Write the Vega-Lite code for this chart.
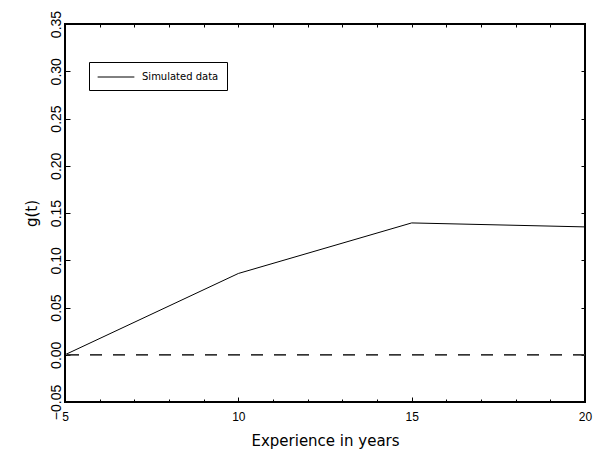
{
  "$schema": "https://vega.github.io/schema/vega-lite/v6.json",
  "width": 520,
  "height": 378,
  "autosize": {"type": "none"},
  "padding": {"left": 65, "top": 24, "right": 31, "bottom": 52},
  "background": "white",
  "data": {
    "values": [
      {"t": 5, "g": 0.0},
      {"t": 10, "g": 0.086},
      {"t": 15, "g": 0.1395},
      {"t": 20, "g": 0.1353}
    ]
  },
  "layer": [
    {
      "mark": {"type": "line", "strokeWidth": 1, "clip": true},
      "encoding": {
        "x": {
          "field": "t", "type": "quantitative",
          "scale": {"domain": [5, 20], "nice": false, "zero": false},
          "axis": {
            "orient": "bottom",
            "values": [5,6,7,8,9,10,11,12,13,14,15,16,17,18,19,20],
            "labelExpr": "datum.value % 5 === 0 ? datum.label : ''",
            "tickSize": {"condition": {"test": "datum.value % 5 === 0", "value": -5}, "value": -3},
            "tickColor": "black",
            "labelFont": "Liberation Sans",
            "labelFontSize": 12,
            "labelColor": "black",
            "labelBaseline": "alphabetic",
            "labelAlign": "center",
            "labelPadding": 23,
            "labelFlush": false,
            "labelOverlap": false,
            "domain": false,
            "grid": false,
            "title": "Experience in years",
            "titleFont": "DejaVu Sans",
            "titleFontSize": 15,
            "titleFontWeight": "normal",
            "titleColor": "black",
            "titleX": 260,
            "titleY": 43,
            "titleBaseline": "alphabetic",
            "titleAlign": "center"
          }
        },
        "y": {
          "field": "g", "type": "quantitative",
          "scale": {"domain": [-0.05, 0.35], "nice": false, "zero": false},
          "axis": {
            "orient": "left",
            "values": [-0.05, 0, 0.05, 0.1, 0.15, 0.2, 0.25, 0.3, 0.35],
            "format": ".2f",
            "tickSize": -5,
            "tickColor": "black",
            "labelFont": "Liberation Sans",
            "labelFontSize": 14,
            "labelColor": "black",
            "labelAngle": 270,
            "labelAlign": "center",
            "labelBaseline": "alphabetic",
            "labelPadding": 10,
            "labelFlush": false,
            "labelOverlap": false,
            "domain": false,
            "grid": false,
            "title": "g(t)",
            "titleFont": "DejaVu Sans",
            "titleFontSize": 15,
            "titleFontWeight": "normal",
            "titleColor": "black",
            "titleAngle": 270,
            "titleX": -29,
            "titleY": 189,
            "titleBaseline": "alphabetic",
            "titleAlign": "center"
          }
        },
        "color": {
          "datum": "Simulated data",
          "type": "nominal",
          "scale": {"range": ["black"]},
          "legend": {
            "title": null,
            "orient": "none",
            "legendX": 24,
            "legendY": 38,
            "padding": 8,
            "strokeColor": "black",
            "fillColor": "white",
            "symbolType": "M-3,0H3",
            "symbolSize": 150,
            "symbolStrokeWidth": 1,
            "symbolStrokeColor": "black",
            "symbolOffset": 12,
            "labelFont": "DejaVu Sans",
            "labelFontSize": 10,
            "labelColor": "black",
            "labelOffset": 19,
            "labelBaseline": "middle"
          }
        }
      }
    },
    {
      "mark": {"type": "rule", "strokeDash": [12, 11], "strokeWidth": 1, "color": "#333333"},
      "encoding": {
        "y": {"datum": 0, "type": "quantitative", "axis": null}
      }
    },
    {
      "mark": {"type": "point", "opacity": 0},
      "encoding": {
        "x": {
          "field": "t", "type": "quantitative",
          "axis": {
            "orient": "top",
            "values": [5,6,7,8,9,10,11,12,13,14,15,16,17,18,19,20],
            "tickSize": -3,
            "tickColor": "black",
            "labels": false,
            "domain": false,
            "grid": false,
            "title": null
          }
        },
        "y": {
          "field": "g", "type": "quantitative",
          "axis": {
            "orient": "right",
            "values": [-0.05, 0, 0.05, 0.1, 0.15, 0.2, 0.25, 0.3, 0.35],
            "tickSize": -4,
            "tickColor": "black",
            "labels": false,
            "domain": false,
            "grid": false,
            "title": null
          }
        }
      }
    }
  ],
  "resolve": {"axis": {"x": "independent", "y": "independent"}},
  "config": {
    "view": {"stroke": "black", "strokeWidth": 2},
    "axis": {"tickWidth": 1}
  }
}
